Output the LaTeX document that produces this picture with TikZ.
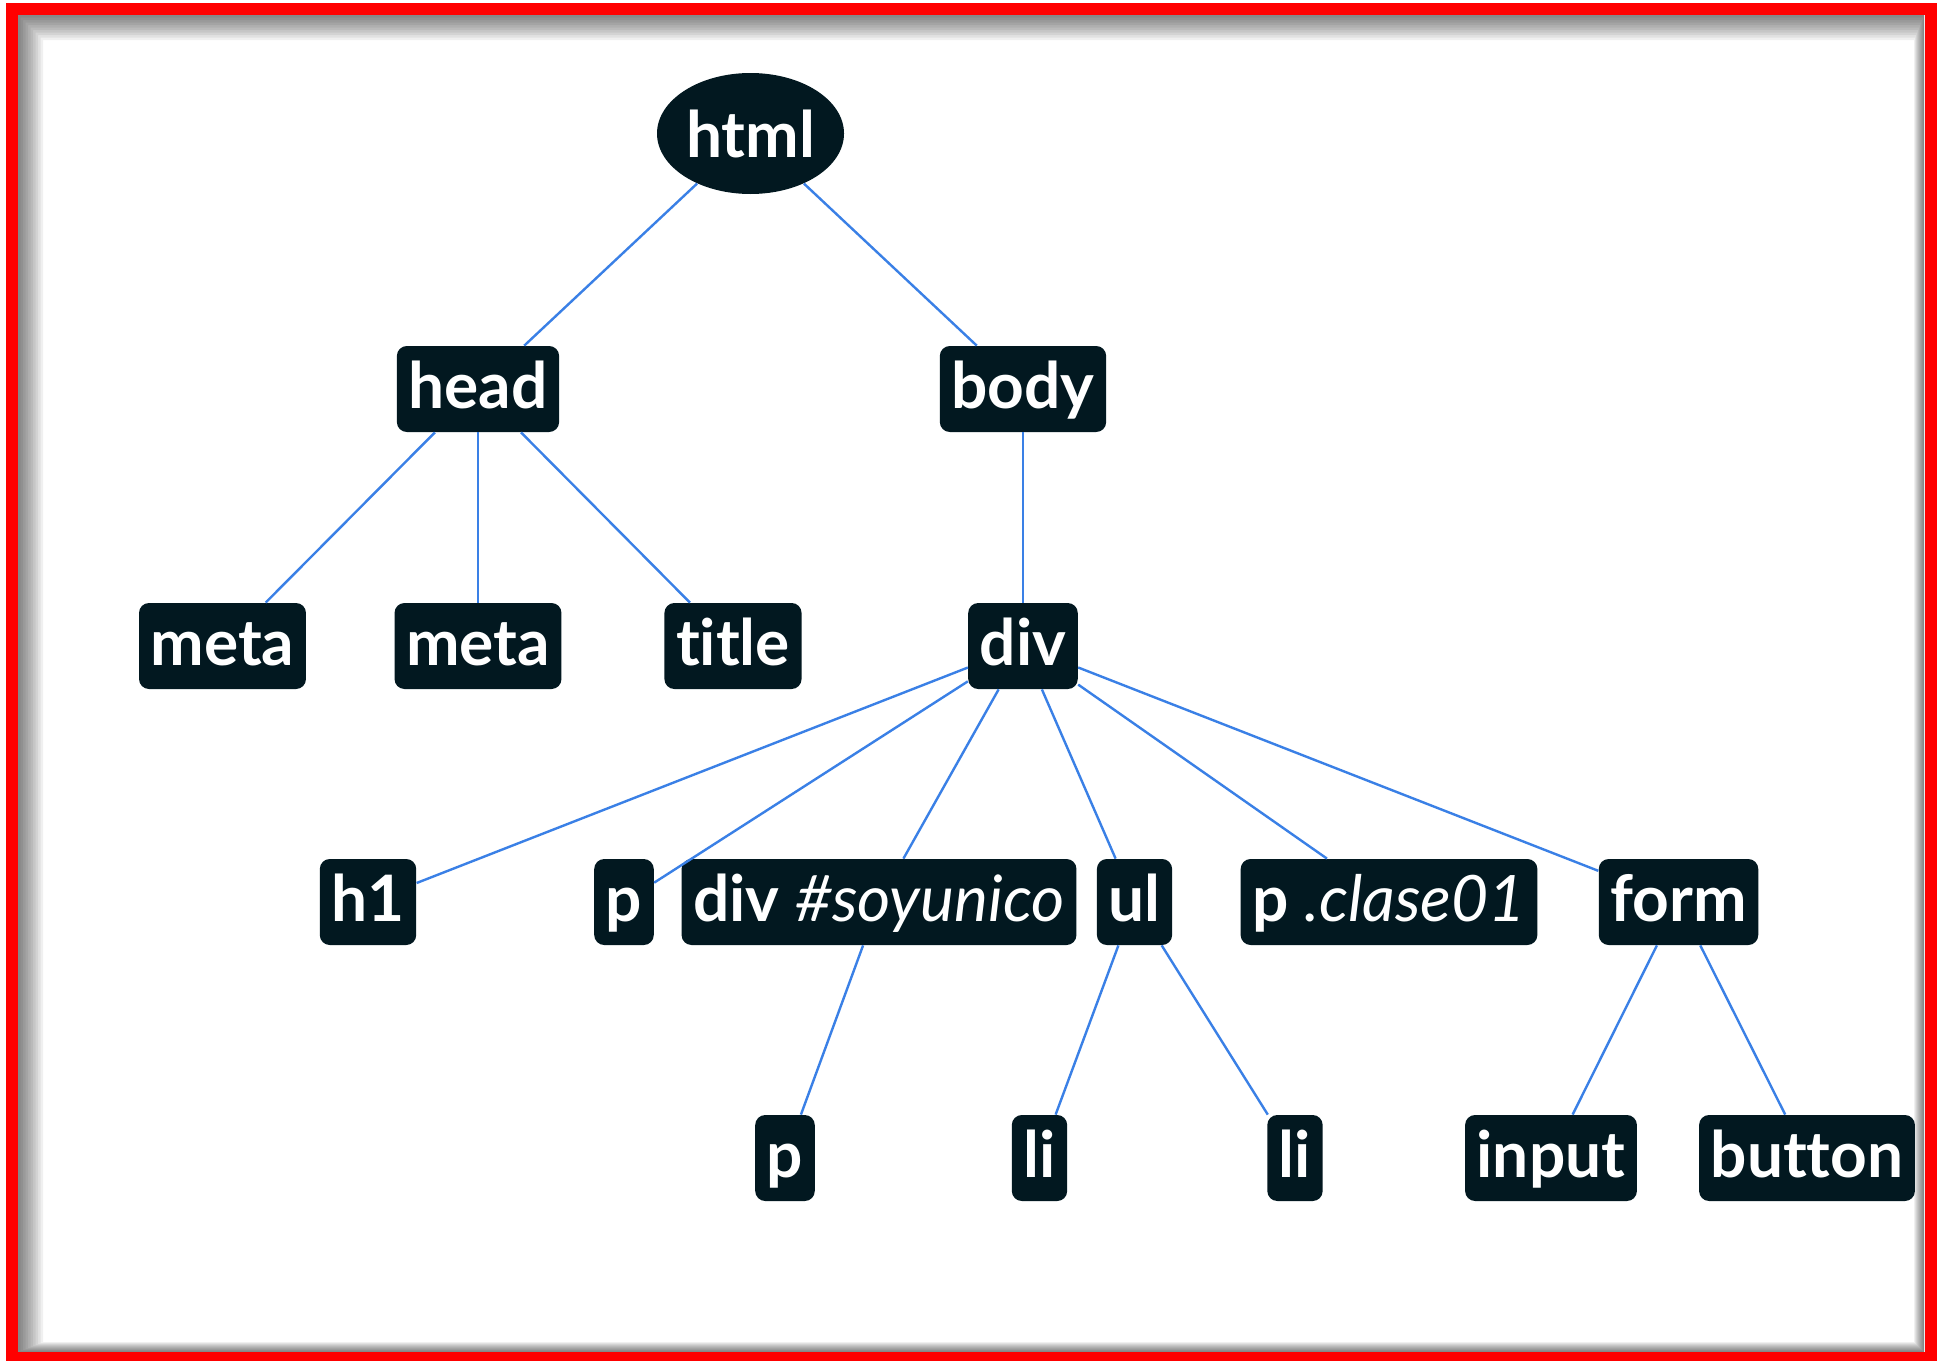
\documentclass[tikz,border=0pt]{standalone}
\usepackage{fontspec}
\setmainfont{Lato}[Ligatures=NoCommon]
\usetikzlibrary{shapes.geometric}

\definecolor{tagdark}{RGB}{2,24,32}
\definecolor{linkblue}{RGB}{58,128,230}

\tikzset{
  tag/.style={fill=tagdark, text=white, rounded corners=5pt,
    font=\fontsize{32}{38}\selectfont\bfseries,
    inner xsep=5.8pt, inner ysep=5pt, text height=26pt, text depth=7pt},
  roottag/.style={ellipse, fill=tagdark, text=white, inner sep=0pt,
    minimum width=93.5pt, minimum height=60.5pt,
    font=\fontsize{32}{38}\selectfont\bfseries},
  link/.style={linkblue, line width=1.2pt}
}
\newcommand{\sel}[1]{{\mdseries\itshape #1}}

\begin{document}
\begin{tikzpicture}[x=0.5pt,y=-0.5pt]
  \useasboundingbox (0,0) rectangle (1938,1360);
  % Frame with inner shadow
  \fill[white] (0,0) rectangle (1938,1360);
  \foreach \k in {1,...,10}
    \fill[black,opacity=0.06,even odd rule]
      (18,15) rectangle (1924,1352)
      (18+2.5*\k,15+2.5*\k) rectangle (1924-\k,1352-\k);
  \draw[red,line width=6pt] (12,9) rectangle (1930.5,1358);

  % Root
  \node[roottag] (html) at (750.5,133.5) {html};
  % Level 1
  \node[tag] (head) at (478,389) {head};
  \node[tag] (body) at (1023,389) {body};
  % Level 2
  \node[tag] (meta1) at (222.5,646) {meta};
  \node[tag] (meta2) at (478,646) {meta};
  \node[tag] (title) at (733,646) {title};
  \node[tag] (div)   at (1023,646) {div};
  % Level 3
  \node[tag] (h1)       at (368,902) {h1};
  \node[tag] (p1)       at (624,902) {p};
  \node[tag] (soyunico) at (879,902) {div \sel{\#soyunico}};
  \node[tag] (ul)       at (1134.5,902) {ul};
  \node[tag] (clase)    at (1389,902) {p \sel{.clase01}};
  \node[tag] (form)     at (1678.5,902) {form};
  % Level 4
  \node[tag] (p2)     at (785,1158) {p};
  \node[tag] (li1)    at (1039.5,1158) {li};
  \node[tag] (li2)    at (1295,1158) {li};
  \node[tag] (input)  at (1551,1158) {input};
  \node[tag] (button) at (1807,1158) {button};

  % Links
  \foreach \a/\b in {html/head, html/body,
      head/meta1, head/meta2, head/title, body/div,
      div/h1, div/p1, div/soyunico, div/ul, div/clase, div/form,
      soyunico/p2, ul/li1, ul/li2, form/input, form/button}
    \draw[link] (\a) -- (\b);
\end{tikzpicture}
\end{document}
